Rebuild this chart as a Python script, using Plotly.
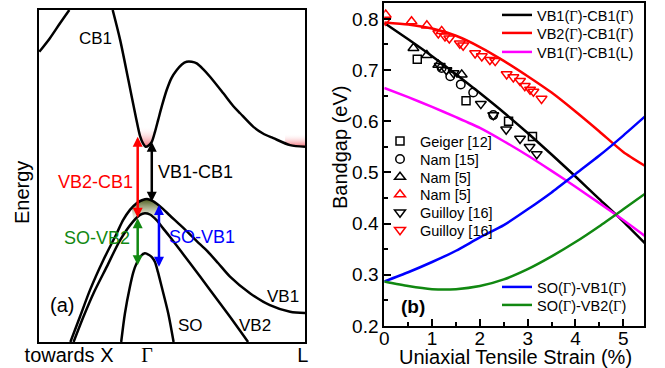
import plotly.graph_objects as go

# ---------------- Panel (a): schematic band structure (arbitrary units) ----------------
# k: 0 = left edge (towards X) ... 100 = L ; E: 0 = bottom ... 100 = top
band_xtop_k = [0.1, 4.1, 7.9, 11.4]
band_xtop_E = [87.4, 91.5, 96.0, 100.0]

cb1_k = [27.7, 30.5, 33.6, 36.5, 38.0, 39.1, 40.1, 41.2, 42.4, 43.6, 44.8, 46.2, 48.0, 49.8,
         51.8, 53.7, 55.5, 57.4, 59.3, 61.7, 64.3, 69.3, 73.0, 75.6, 80.6, 84.2, 88.1, 94.4, 100.0]
cb1_E = [100.0, 91.0, 78.9, 67.4, 62.0, 59.8, 58.8, 59.2, 60.3, 63.3, 66.9, 71.1, 75.9, 79.5,
         81.9, 83.6, 84.4, 84.4, 83.9, 82.2, 79.9, 74.9, 71.1, 68.9, 64.8, 62.8, 61.4, 59.3, 58.8]

vb1_k = [11.8, 15.4, 19.2, 24.2, 29.2, 31.6, 34.2, 36.8, 38.7, 40.6, 42.5, 44.4, 46.6, 49.2,
         52.3, 55.5, 59.3, 63.0, 67.3, 71.8, 79.3, 86.8, 94.4, 100.0]
vb1_E = [0.0, 7.6, 15.7, 24.7, 32.7, 36.7, 39.8, 41.9, 42.7, 43.1, 42.6, 41.6, 40.1, 38.1,
         35.8, 33.4, 30.4, 27.6, 23.8, 19.7, 14.7, 11.1, 9.1, 8.7]

vb2_k = [13.0, 16.7, 20.5, 25.5, 30.5, 35.5, 38.0, 39.8, 41.7, 44.2, 46.6, 49.2, 56.8, 64.3, 71.8, 78.6]
vb2_E = [0.0, 7.6, 14.7, 22.7, 30.7, 36.4, 38.3, 38.8, 38.4, 36.7, 34.3, 31.7, 23.7, 15.7, 7.6, 0.0]

so_k = [30.9, 32.3, 34.2, 35.5, 36.7, 38.3, 39.8, 41.4, 42.5, 43.6, 44.7, 46.1, 48.6, 50.6]
so_E = [0.0, 8.6, 16.7, 21.1, 23.7, 25.9, 26.7, 26.2, 25.5, 24.1, 21.1, 16.7, 8.6, 0.0]

pinkG_k = [37.2, 38.0, 39.1, 40.1, 41.2, 42.4, 43.6, 44.2]
pinkG_E = [65.0, 62.0, 59.8, 58.8, 59.2, 60.3, 63.3, 65.0]
pinkL_k = [92.5, 94.4, 100.0, 100.0, 92.5]
pinkL_E = [59.5, 59.3, 58.8, 62.8, 62.8]
olive_k = [34.9, 36.8, 38.7, 40.6, 42.5, 44.4, 46.0, 44.2, 41.7, 39.8, 38.0, 35.5]
olive_E = [40.2, 41.9, 42.7, 43.1, 42.6, 41.6, 40.5, 36.7, 38.4, 38.8, 38.3, 36.4]

# transitions: (k, E_top, E_bottom, colour)
arrow_k = [37.1, 42.4, 37.1, 45.1]
arrow_Etop = [61.8, 60.3, 37.3, 41.3]
arrow_Ebot = [37.0, 41.8, 22.7, 22.2]
arrow_col = ["#ff0000", "#000000", "#118811", "#0000ff"]

# band / transition labels: text, k, E, colour, size
lab_text = ["CB1", "VB2-CB1", "VB1-CB1", "SO-VB2", "SO-VB1", "VB1", "VB2", "SO", "(a)"]
lab_k = [21.1, 21.1, 59.0, 21.7, 61.3, 91.8, 81.2, 56.8, 8.5]
lab_E = [91.5, 48.3, 51.3, 31.2, 31.7, 13.6, 5.1, 5.1, 11.1]
lab_col = ["black", "#ff0000", "black", "#118811", "#0000ff", "black", "black", "black", "black"]
lab_size = [17, 18, 18, 18, 18, 17, 17, 17, 20]

G = '<span style="font-family:Liberation Serif">Γ</span>'
a_tickvals = [11.3, 40.6, 99.2]
a_ticktext = ["towards X", G, "L"]

# ---------------- Panel (b): bandgap vs strain ----------------
strain = [0, 0.5, 1.0, 1.5, 2.0, 2.5, 3.0, 3.5, 4.0, 4.5, 5.0, 5.45]
gap_vb1_cb1G = [0.792, 0.760, 0.727, 0.692, 0.655, 0.617, 0.577, 0.535, 0.492, 0.448, 0.404, 0.362]
gap_vb2_cb1G = [0.793, 0.789, 0.781, 0.767, 0.745, 0.718, 0.688, 0.656, 0.619, 0.580, 0.540, 0.513]
gap_vb1_cb1L = [0.665, 0.647, 0.628, 0.608, 0.587, 0.561, 0.533, 0.503, 0.472, 0.440, 0.407, 0.376]
gap_so_vb1 = [0.287, 0.305, 0.325, 0.347, 0.373, 0.397, 0.428, 0.461, 0.497, 0.533, 0.572, 0.609]
gap_so_vb2 = [0.287, 0.278, 0.272, 0.272, 0.278, 0.291, 0.311, 0.336, 0.364, 0.395, 0.428, 0.458]

geiger_x = [0.69, 1.71, 2.60, 3.10]
geiger_y = [0.721, 0.640, 0.600, 0.570]
nam15_x = [1.20, 1.38, 1.60, 1.86, 2.28]
nam15_y = [0.704, 0.688, 0.672, 0.656, 0.612]
nam5k_x = [0.61, 0.89, 1.13, 1.62]
nam5k_y = [0.743, 0.729, 0.710, 0.691]
nam5r_x = [0.03, 0.57, 0.89, 1.20]
nam5r_y = [0.808, 0.795, 0.787, 0.776]
guilk_x = [1.16, 1.30, 1.45, 2.02, 2.28, 2.55, 2.84, 3.04, 3.19]
guilk_y = [0.708, 0.700, 0.694, 0.634, 0.612, 0.584, 0.566, 0.550, 0.536]
guilr_x = [0.02, 1.13, 1.27, 1.36, 1.58, 1.65, 1.90, 2.04, 2.21, 2.32, 2.56, 2.70, 2.84, 2.94,
           3.05, 3.12, 3.29]
guilr_y = [0.797, 0.772, 0.766, 0.762, 0.752, 0.748, 0.733, 0.727, 0.720, 0.718, 0.692, 0.686,
           0.679, 0.669, 0.662, 0.658, 0.644]

FONT = "Liberation Sans"
W, H = 665, 368

fig = go.Figure()

# ---- panel (a) fills
fig.add_trace(go.Scatter(x=pinkG_k, y=pinkG_E, mode="lines", fill="toself",
                         line=dict(width=0, color="rgba(0,0,0,0)"),
                         fillgradient=dict(type="vertical",
                                           colorscale=[[0, "rgba(240,90,100,0.9)"], [1, "rgba(255,255,255,0)"]]),
                         showlegend=False, hoverinfo="skip", xaxis="x", yaxis="y"))
fig.add_trace(go.Scatter(x=pinkL_k, y=pinkL_E, mode="lines", fill="toself",
                         line=dict(width=0, color="rgba(0,0,0,0)"),
                         fillgradient=dict(type="vertical",
                                           colorscale=[[0, "rgba(240,90,100,0.9)"], [1, "rgba(255,255,255,0)"]]),
                         showlegend=False, hoverinfo="skip", xaxis="x", yaxis="y"))
fig.add_trace(go.Scatter(x=olive_k, y=olive_E, mode="lines", fill="toself",
                         line=dict(width=0, color="rgba(0,0,0,0)"),
                         fillgradient=dict(type="vertical",
                                           colorscale=[[0, "rgba(215,220,190,0.2)"], [1, "rgba(70,85,20,1)"]]),
                         showlegend=False, hoverinfo="skip", xaxis="x", yaxis="y"))

# ---- panel (a) bands
for kk, ee in [(band_xtop_k, band_xtop_E), (cb1_k, cb1_E), (vb1_k, vb1_E), (vb2_k, vb2_E), (so_k, so_E)]:
    fig.add_trace(go.Scatter(x=kk, y=ee, mode="lines",
                             line=dict(color="black", width=2.5, shape="spline", smoothing=0.8),
                             showlegend=False, hoverinfo="skip", xaxis="x", yaxis="y"))

# ---- panel (b) curves
line_series = [
    (gap_vb1_cb1G, "black", f"VB1({G})-CB1({G})", "legend"),
    (gap_vb2_cb1G, "#ff0000", f"VB2({G})-CB1({G})", "legend2"),
    (gap_vb1_cb1L, "#ff00ff", f"VB1({G})-CB1(L)", "legend3"),
    (gap_so_vb1, "#0000ff", f"SO({G})-VB1({G})", "legend4"),
    (gap_so_vb2, "#118811", f"SO({G})-VB2({G})", "legend5"),
]
for yy, col, name, lg in line_series:
    fig.add_trace(go.Scatter(x=strain, y=yy, mode="lines", name=name,
                             line=dict(color=col, width=2.5, shape="spline", smoothing=0.6),
                             legend=lg, xaxis="x2", yaxis="y2"))

marker_series = [
    (geiger_x, geiger_y, "square-open", "black", 8, "Geiger [12]", "legend6"),
    (nam15_x, nam15_y, "circle-open", "black", 8.5, "Nam [15]", "legend7"),
    (nam5k_x, nam5k_y, "triangle-up-open", "black", 9.5, "Nam [5]", "legend8"),
    (nam5r_x, nam5r_y, "triangle-up-open", "#ff0000", 9.5, "Nam [5]", "legend9"),
    (guilk_x, guilk_y, "triangle-down-open", "black", 9.5, "Guilloy [16]", "legend10"),
    (guilr_x, guilr_y, "triangle-down-open", "#ff0000", 9.5, "Guilloy [16]", "legend11"),
]
for xx, yy, sym, col, sz, name, lg in marker_series:
    fig.add_trace(go.Scatter(x=xx, y=yy, mode="markers", name=name,
                             marker=dict(symbol=sym, size=sz, color=col, line=dict(color=col, width=1.5)),
                             legend=lg, xaxis="x2", yaxis="y2"))

# ---- legends (one item each, positioned like the reference)
leg_rows = {
    "legend": (497, 15), "legend2": (497, 33), "legend3": (497, 52),
    "legend4": (497, 287), "legend5": (497, 305),
    "legend6": (380, 141), "legend7": (380, 159), "legend8": (380, 177),
    "legend9": (380, 194.5), "legend10": (380, 212.5), "legend11": (380, 230),
}
leg_layout = {}
for lg, (px, py) in leg_rows.items():
    leg_layout[lg] = dict(x=px / W, y=1 - py / H, xanchor="left", yanchor="middle",
                          bgcolor="rgba(0,0,0,0)", borderwidth=0,
                          font=dict(family=FONT, size=14.5, color="black"))

annotations = []
for t, k, e, c, s in zip(lab_text, lab_k, lab_E, lab_col, lab_size):
    annotations.append(dict(x=k, y=e, xref="x", yref="y", text=t, showarrow=False,
                            xanchor="center", yanchor="middle",
                            font=dict(family=FONT, size=s, color=c)))
for k, et, eb, c in zip(arrow_k, arrow_Etop, arrow_Ebot, arrow_col):
    annotations.append(dict(x=k, y=et, ax=k, ay=eb, xref="x", yref="y", axref="x", ayref="y",
                            text="", showarrow=True, arrowhead=2, startarrowhead=2,
                            arrowside="end+start", arrowsize=0.8, startarrowsize=0.8,
                            arrowwidth=2.5, arrowcolor=c, standoff=0, startstandoff=0))
annotations.append(dict(x=0.61, y=0.238, xref="x2", yref="y2", text="<b>(b)</b>", showarrow=False,
                        xanchor="center", yanchor="middle",
                        font=dict(family=FONT, size=19, color="black")))
annotations.append(dict(x=22 / W, y=1 - 192 / H, xref="paper", yref="paper", text="Energy",
                        xanchor="center", yanchor="middle",
                        textangle=-90, showarrow=False, font=dict(family=FONT, size=20, color="black")))
annotations.append(dict(x=340 / W, y=1 - 148 / H, xref="paper", yref="paper", text="Bandgap (eV)",
                        xanchor="center", yanchor="middle",
                        textangle=-90, showarrow=False, font=dict(family=FONT, size=20, color="black")))
annotations.append(dict(x=515.8 / W, y=1 - 356.5 / H, xref="paper", yref="paper",
                        text="Uniaxial Tensile Strain (%)", showarrow=False,
                        xanchor="center", yanchor="middle",
                        font=dict(family=FONT, size=20, color="black")))

fig.update_layout(
    width=W, height=H, margin=dict(l=0, r=0, t=0, b=0, autoexpand=False),
    paper_bgcolor="white", plot_bgcolor="white",
    font=dict(family=FONT, color="black"),
    xaxis=dict(domain=[39 / W, 305 / W], range=[0, 100], showgrid=False, zeroline=False,
               showline=True, mirror=True, linecolor="black", linewidth=2,
               tickvals=a_tickvals, ticktext=a_ticktext, ticks="", automargin=False,
               ticklabelstandoff=-6,
               tickfont=dict(family=FONT, size=20, color="black")),
    yaxis=dict(domain=[1 - 342 / H, 1 - 10 / H], range=[0, 100], showgrid=False, zeroline=False,
               showline=True, mirror=True, linecolor="black", linewidth=2, automargin=False,
               showticklabels=False, ticks=""),
    xaxis2=dict(domain=[384.3 / W, 644.3 / W], range=[0, 5.44], anchor="y2", automargin=False,
                showgrid=False, zeroline=False, showline=True, mirror=True,
                linecolor="black", linewidth=2, tick0=0, dtick=1,
                ticks="inside", ticklen=7, tickwidth=1.5, tickcolor="black",
                ticklabelstandoff=-6,
                minor=dict(dtick=0.5, ticks="inside", ticklen=4, tickwidth=1.5, tickcolor="black"),
                tickfont=dict(family=FONT, size=19, color="black")),
    yaxis2=dict(domain=[1 - 326 / H, 1 - 3 / H], range=[0.2, 0.831], anchor="x2", automargin=False,
                showgrid=False, zeroline=False, showline=True, mirror=True,
                linecolor="black", linewidth=2, tick0=0.2, dtick=0.1, tickformat=".1f",
                ticks="inside", ticklen=7, tickwidth=1.5, tickcolor="black",
                minor=dict(dtick=0.05, ticks="inside", ticklen=4, tickwidth=1.5, tickcolor="black"),
                tickfont=dict(family=FONT, size=19, color="black")),
    annotations=annotations,
    **leg_layout,
)

fig.write_html("out.html")
